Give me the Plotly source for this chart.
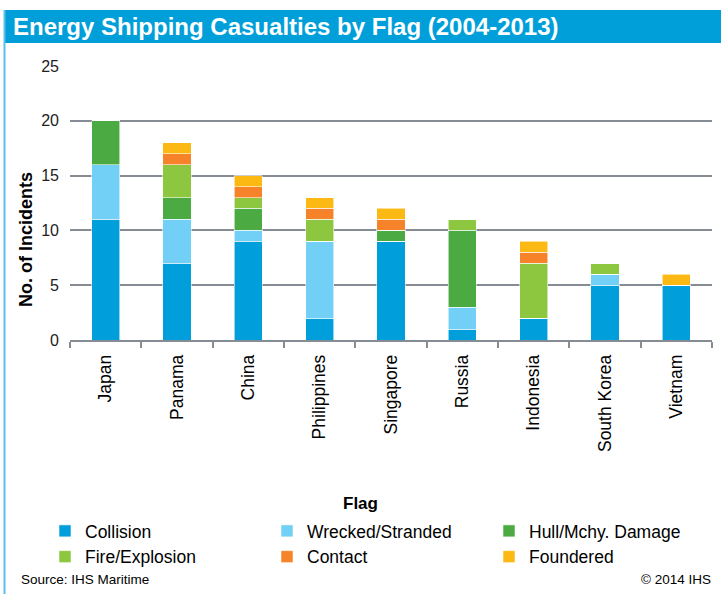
import plotly.graph_objects as go

categories = ["Japan", "Panama", "China", "Philippines", "Singapore", "Russia",
              "Indonesia", "South Korea", "Vietnam"]
collision = [11, 7, 9, 2, 9, 1, 2, 5, 5]
wrecked = [5, 4, 1, 7, 0, 2, 0, 1, 0]
hull = [4, 2, 2, 0, 1, 7, 0, 0, 0]
fire = [0, 3, 1, 2, 0, 1, 5, 1, 0]
contact = [0, 1, 1, 1, 1, 0, 1, 0, 0]
foundered = [0, 1, 1, 1, 1, 0, 1, 0, 1]

series_names = ["Collision", "Wrecked/Stranded", "Hull/Mchy. Damage",
                "Fire/Explosion", "Contact", "Foundered"]
series_values = [collision, wrecked, hull, fire, contact, foundered]
series_colors = ["#009FDB", "#72CFF5", "#4BAA42", "#8DC63F", "#F6832A", "#FDB913"]

y_ticks = [0, 5, 10, 15, 20, 25]

FONT = "Liberation Sans, Arial, sans-serif"
W, H = 721, 594
L, R, T, B = 70, 712, 66, 340


def px(x):
    return (x - L) / (R - L)


def py(y):
    return (B - y) / (B - T)


fig = go.Figure()
for name, vals, col in zip(series_names, series_values, series_colors):
    fig.add_trace(go.Bar(
        x=categories, y=vals, name=name,
        marker=dict(color=col, line=dict(color="rgba(255,255,255,0.7)", width=0.8)),
    ))

fig.update_layout(
    width=W, height=H,
    margin=dict(l=L, r=W - R, t=T, b=H - B, autoexpand=False),
    paper_bgcolor="white", plot_bgcolor="white",
    barmode="stack", bargap=0.607,
    font=dict(family=FONT, color="#000000"),
    showlegend=True,
    legend=dict(
        orientation="h", x=px(45), xanchor="left", y=py(513), yanchor="top",
        font=dict(size=17.5, family=FONT, color="#000"),
        entrywidth=177, entrywidthmode="pixels", traceorder="normal",
        itemclick=False, bgcolor="rgba(0,0,0,0)",
    ),
    xaxis=dict(
        type="category", tickangle=-90, tickson="boundaries",
        ticks="outside", ticklen=6, tickcolor="#868c93", tickwidth=1.5,
        showline=True, linecolor="#868c93", linewidth=1.5,
        showgrid=False, tickfont=dict(size=17.5, family=FONT, color="#000"),
        ticklabelstandoff=6,
    ),
    yaxis=dict(
        range=[0, 25], tickvals=y_ticks, showgrid=True, gridcolor="#868c93",
        gridwidth=1.5, zeroline=False, showline=False, ticks="",
        tickfont=dict(size=16, family=FONT, color="#222"),
        ticklabelstandoff=10,
    ),
    shapes=[
        dict(type="rect", xref="paper", yref="paper", x0=px(4), x1=px(730),
             y0=py(43), y1=py(10), fillcolor="#009FDA", line=dict(width=0), layer="below"),
        dict(type="line", xref="paper", yref="paper", x0=px(4.5), x1=px(4.5),
             y0=py(10), y1=py(600), line=dict(color="#5BC0EB", width=2)),
    ],
    annotations=[
        dict(text="<b>Energy Shipping Casualties by Flag (2004-2013)</b>", xref="paper", yref="paper",
             x=px(11), y=py(27), xanchor="left", yanchor="middle", showarrow=False,
             font=dict(size=24, color="white", family=FONT)),
        dict(text="<b>No. of Incidents</b>", xref="paper", yref="paper",
             x=px(26), y=py(240), xanchor="center", yanchor="middle", textangle=-90,
             showarrow=False, font=dict(size=18, color="#000", family=FONT)),
        dict(text="<b>Flag</b>", xref="paper", yref="paper",
             x=px(360), y=py(503), xanchor="center", yanchor="middle",
             showarrow=False, font=dict(size=17, color="#000", family=FONT)),
        dict(text="Source: IHS Maritime", xref="paper", yref="paper",
             x=px(19), y=py(579), xanchor="left", yanchor="middle",
             showarrow=False, font=dict(size=13.5, color="#000", family=FONT)),
        dict(text="© 2014 IHS", xref="paper", yref="paper",
             x=px(713), y=py(579), xanchor="right", yanchor="middle",
             showarrow=False, font=dict(size=13.5, color="#000", family=FONT)),
    ],
)

fig.write_html("out.html", config={"displayModeBar": False},
               post_script="document.body.style.margin='0';document.body.style.overflow='hidden';")
